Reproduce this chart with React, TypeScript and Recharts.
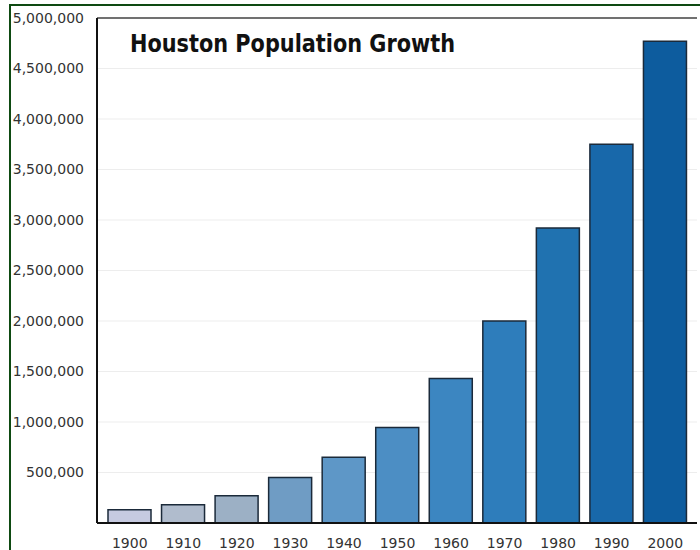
import { BarChart, Bar, XAxis, YAxis, CartesianGrid, ReferenceLine, Cell } from 'recharts'

const years = ['1900', '1910', '1920', '1930', '1940', '1950', '1960', '1970', '1980', '1990', '2000']
const population = [130000, 180000, 270000, 450000, 650000, 945000, 1430000, 2000000, 2920000, 3750000, 4770000]
const barColors = [
  '#c6cae0',
  '#b0bccd',
  '#9cb0c5',
  '#6f9cc4',
  '#5e97c7',
  '#4c8ec4',
  '#3c86c1',
  '#2e7dbb',
  '#2072b0',
  '#1868aa',
  '#0d5c9e',
]
const yTicks = [500000, 1000000, 1500000, 2000000, 2500000, 3000000, 3500000, 4000000, 4500000, 5000000]

const data = years.map((year, i) => ({ year, population: population[i] }))

const tickStyle = { fill: '#333', fontSize: 14, fontFamily: 'DejaVu Sans, sans-serif' }

export default function App() {
  return (
    <div style={{ position: 'absolute', left: 0, top: 0, width: 700, height: 550, background: '#fff' }}>
      {/* green frame */}
      <div
        style={{
          position: 'absolute',
          left: 9,
          top: 4,
          width: 700,
          height: 560,
          borderLeft: '2px solid #0e4a12',
          borderTop: '2px solid #0e4a12',
        }}
      />
      <BarChart
        width={700}
        height={550}
        data={data}
        margin={{ top: 18, right: 3, bottom: 0, left: 10 }}
        style={{ position: 'absolute', left: 0, top: 0 }}
      >
        <CartesianGrid vertical={false} stroke="#ededed" />
        <XAxis
          dataKey="year"
          height={27}
          tickLine={false}
          tickSize={0}
          tickMargin={15}
          padding={{ left: 6, right: 5 }}
          tick={tickStyle}
          axisLine={{ stroke: '#111', strokeWidth: 2 }}
        />
        <YAxis
          width={87}
          domain={[0, 5000000]}
          ticks={yTicks}
          tickLine={false}
          tickSize={0}
          tickMargin={13}
          tick={tickStyle}
          tickFormatter={(v: number) => v.toLocaleString('en-US')}
          axisLine={{ stroke: '#111', strokeWidth: 2 }}
        />
        <ReferenceLine y={5000000} stroke="#444" strokeWidth={1.5} />
        <Bar dataKey="population" barSize={43} stroke="#1b2a3a" strokeWidth={1.5} isAnimationActive={false}>
          {data.map((d, i) => (
            <Cell key={d.year} fill={barColors[i]} />
          ))}
        </Bar>
      </BarChart>
      <svg width={700} height={550} style={{ position: 'absolute', left: 0, top: 0, pointerEvents: 'none' }}>
        <text
          x={130}
          y={52}
          textLength={325}
          lengthAdjust="spacingAndGlyphs"
          fontFamily="DejaVu Sans Condensed, DejaVu Sans, sans-serif"
          fontWeight="bold"
          fontSize={25}
          fill="#111"
        >
          Houston Population Growth
        </text>
      </svg>
    </div>
  )
}
